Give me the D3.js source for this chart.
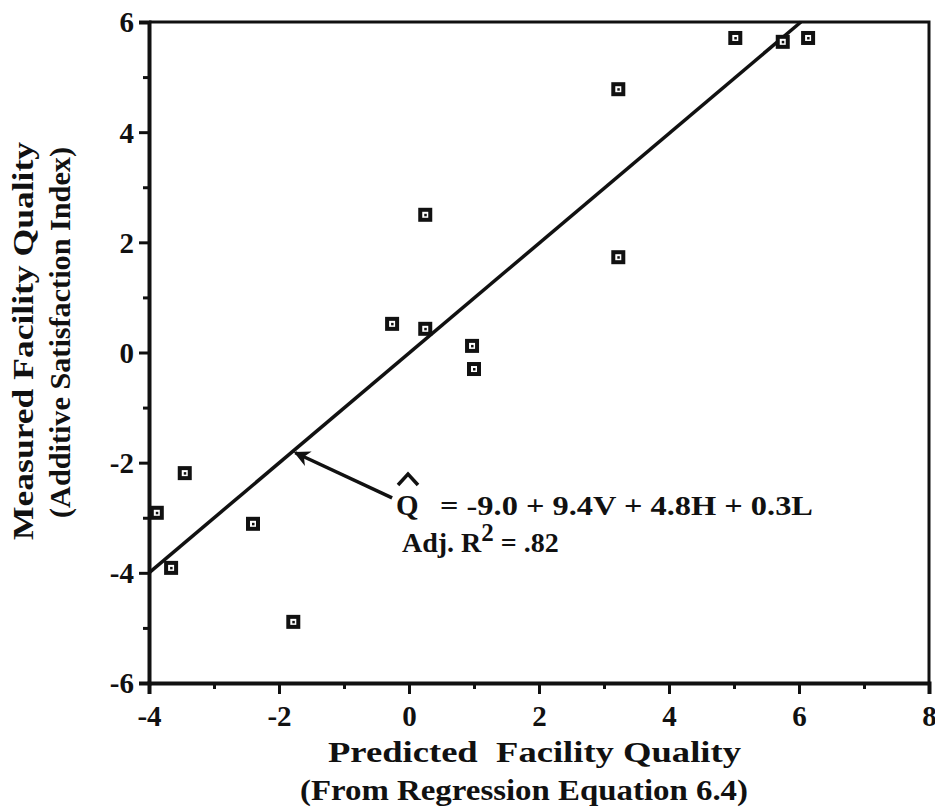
<!DOCTYPE html>
<html>
<head>
<meta charset="utf-8">
<script src="https://cdn.jsdelivr.net/npm/d3@7"></script>
<style>
  body { margin: 0; background: #fff; }
  text { font-family: "Liberation Serif", "Times New Roman", serif; font-weight: bold; fill: #111; }
</style>
</head>
<body>
<div id="chart"></div>
<script>
// predicted vs measured facility quality
const predicted = [-3.88, -3.66, -3.45, -2.4, -1.78, -0.26, 0.25, 0.25, 0.97, 1.0, 3.22, 3.22, 5.02, 5.75, 6.14];
const measured = [-2.91, -3.91, -2.19, -3.11, -4.89, 0.52, 2.5, 0.43, 0.12, -0.3, 4.78, 1.73, 5.71, 5.64, 5.71];
const fitX = [-4, 6.03];
const fitY = [-4, 6];
const xTicks = [-4, -2, 0, 2, 4, 6, 8];
const yTicks = [-6, -4, -2, 0, 2, 4, 6];

let width = 935, height = 812;
let svg = d3.select("#chart").append("svg")
    .attr("width", width)
    .attr("height", height);

let x = d3.scaleLinear().domain([-4, 8]).range([149, 929]);
let y = d3.scaleLinear().domain([-6, 6]).range([683, 22]);

// frame top + right
svg.append("path")
    .attr("d", `M${x(-4)},${y(6)}H${x(8)}V${y(-6)}`)
    .attr("fill", "none")
    .attr("stroke", "#111")
    .attr("stroke-width", 3);

// x axis: major ticks w/ labels, minor ticks on odd values
let xAxis = svg.append("g")
    .attr("transform", "translate(0," + y(-6) + ")")
    .call(d3.axisBottom(x).tickValues(xTicks).tickSize(11).tickPadding(11).tickFormat(d => String(d)));
svg.append("g")
    .attr("transform", "translate(0," + y(-6) + ")")
    .call(d3.axisBottom(x).tickValues(d3.range(-3, 8, 2)).tickSize(6).tickFormat(""))
    .select(".domain").remove();

let yAxis = svg.append("g")
    .attr("transform", "translate(" + x(-4) + ",0)")
    .call(d3.axisLeft(y).tickValues(yTicks).tickSize(10).tickPadding(5).tickFormat(d => String(d)));
svg.append("g")
    .attr("transform", "translate(" + x(-4) + ",0)")
    .call(d3.axisLeft(y).tickValues(d3.range(-5, 6, 2)).tickSize(6).tickFormat(""))
    .select(".domain").remove();

svg.selectAll(".domain").attr("stroke", "#111").attr("stroke-width", 4);
svg.selectAll(".tick line").attr("stroke", "#111").attr("stroke-width", 3);
svg.selectAll(".tick text")
    .style("font-family", '"Liberation Serif", serif')
    .style("font-weight", "bold")
    .style("font-size", "29px")
    .attr("fill", "#111");
xAxis.selectAll(".tick text").attr("dy", "0.71em");
yAxis.selectAll(".tick text").attr("dy", "0.34em");

// regression line
svg.append("line")
    .attr("x1", x(fitX[0])).attr("y1", y(fitY[0]))
    .attr("x2", x(fitX[1])).attr("y2", y(fitY[1]))
    .attr("stroke", "#111")
    .attr("stroke-width", 3.5);

// square markers with center dot
let pts = predicted.map((p, i) => ({ p: p, m: measured[i] }));
let marks = svg.selectAll(".pt").data(pts).enter().append("g")
    .attr("class", "pt")
    .attr("transform", d => `translate(${x(d.p)},${y(d.m)})`);
marks.append("rect")
    .attr("x", -5).attr("y", -5)
    .attr("width", 10).attr("height", 10)
    .attr("fill", "#fff")
    .attr("stroke", "#111")
    .attr("stroke-width", 4);
marks.append("rect")
    .attr("x", -1).attr("y", -1)
    .attr("width", 2.5).attr("height", 2.5)
    .attr("fill", "#111");

// arrow pointing at the fit line
svg.append("defs").append("marker")
    .attr("id", "head")
    .attr("viewBox", "0 0 10 10")
    .attr("refX", 9).attr("refY", 5)
    .attr("markerWidth", 26).attr("markerHeight", 16)
    .attr("markerUnits", "userSpaceOnUse")
    .attr("orient", "auto")
    .append("path")
    .attr("d", "M0,0L10,5L0,10L3,5Z")
    .attr("fill", "#111");
svg.append("line")
    .attr("x1", x(-0.26)).attr("y1", y(-2.64))
    .attr("x2", x(-1.75)).attr("y2", y(-1.82))
    .attr("stroke", "#111")
    .attr("stroke-width", 3.5)
    .attr("marker-end", "url(#head)");

// equation annotation
let ex = 396, ey = 515;
svg.append("text").attr("x", ex).attr("y", ey).style("font-size", "29px").text("Q");
svg.append("path")
    .attr("d", `M${ex + 2},${ey - 30}L${ex + 12},${ey - 41}L${ex + 22},${ey - 30}`)
    .attr("fill", "none")
    .attr("stroke", "#111")
    .attr("stroke-width", 3.5);
svg.append("text").attr("x", 440).attr("y", ey)
    .style("font-size", "28px")
    .attr("textLength", 373)
    .attr("lengthAdjust", "spacingAndGlyphs")
    .text("= -9.0 + 9.4V + 4.8H + 0.3L");
let r2 = svg.append("text").attr("x", 402).attr("y", 552).style("font-size", "28px");
r2.append("tspan").text("Adj. R");
r2.append("tspan").attr("dy", -11).style("font-size", "25px").text("2");
r2.append("tspan").attr("dy", 11).text(" = .82");

// axis titles
svg.append("text")
    .attr("x", 328).attr("y", 762)
    .style("font-size", "30px")
    .style("white-space", "pre")
    .attr("textLength", 413)
    .attr("lengthAdjust", "spacingAndGlyphs")
    .text("Predicted  Facility Quality");
svg.append("text")
    .attr("x", 300).attr("y", 800)
    .style("font-size", "30px")
    .attr("textLength", 448)
    .attr("lengthAdjust", "spacingAndGlyphs")
    .text("(From Regression Equation 6.4)");

svg.append("text")
    .attr("transform", "translate(33,540) rotate(-90)")
    .style("font-size", "30px")
    .attr("textLength", 398)
    .attr("lengthAdjust", "spacingAndGlyphs")
    .text("Measured Facility Quality");
svg.append("text")
    .attr("transform", "translate(70,518) rotate(-90)")
    .style("font-size", "30px")
    .attr("textLength", 371)
    .attr("lengthAdjust", "spacingAndGlyphs")
    .text("(Additive Satisfaction Index)");
</script>
</body>
</html>
